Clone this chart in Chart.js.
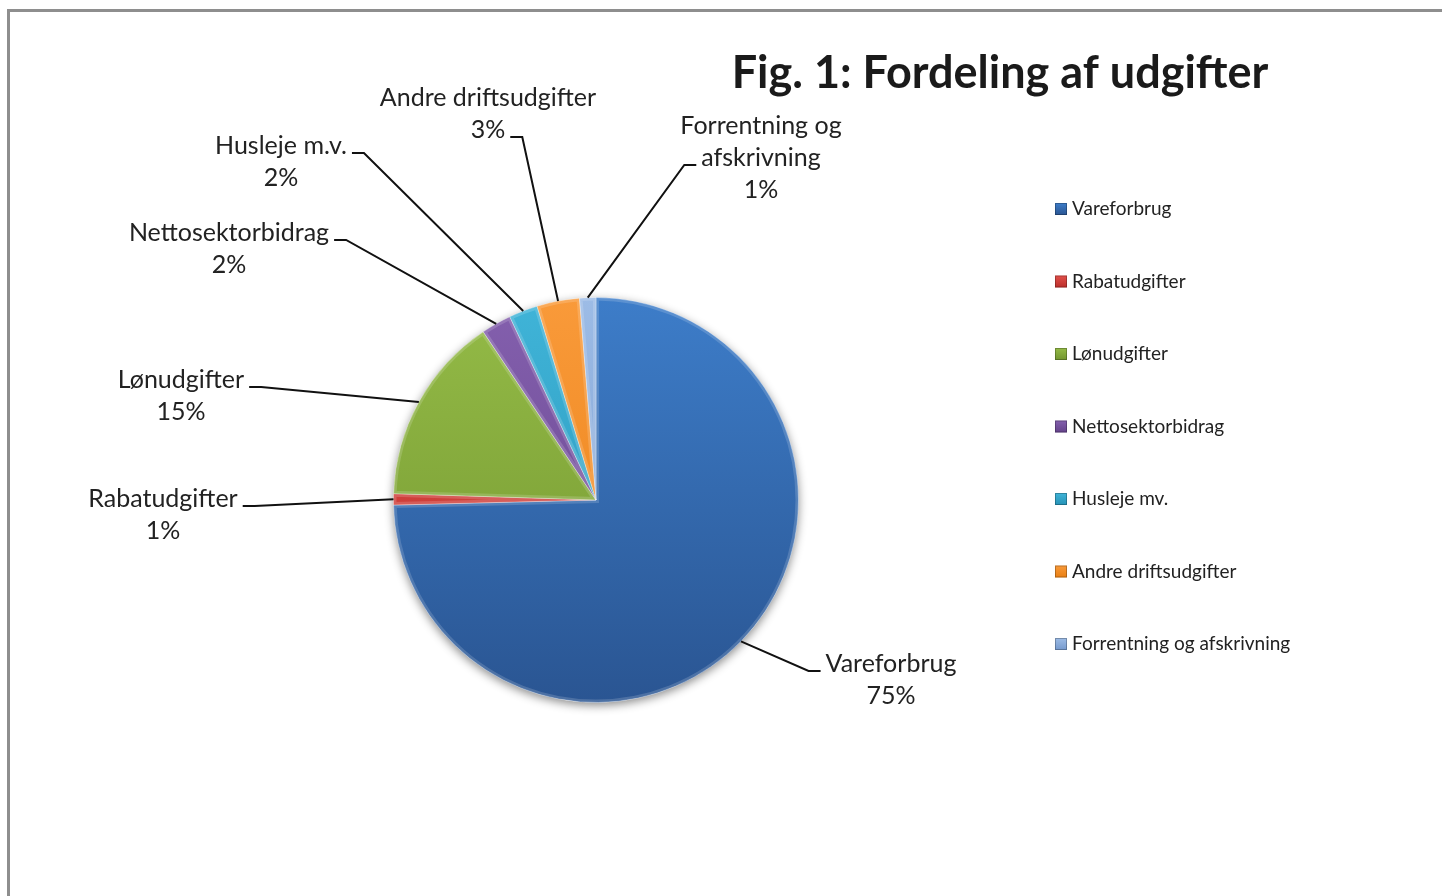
<!DOCTYPE html>
<html>
<head>
<meta charset="utf-8">
<script src="https://cdn.jsdelivr.net/npm/chart.js@4.4.1/dist/chart.umd.min.js"></script>
<style>
  body { margin: 0; background: #fff; }
  #frame { position: absolute; left: 7px; top: 9px; right: -5px; bottom: -5px;
           border-top: 3px solid #8e8e8e; border-left: 3px solid #8e8e8e; }
  #wrap { position: absolute; left: 0; top: 0; width: 1442px; height: 896px; }
</style>
</head>
<body>
<div id="frame"></div>
<div id="wrap"><canvas id="chart-display" width="1442" height="896"></canvas></div>
<script>
// legend names and the names shown next to the slices differ slightly in the original
var legendLabels = ['Vareforbrug', 'Rabatudgifter', 'Lønudgifter', 'Nettosektorbidrag',
                    'Husleje mv.', 'Andre driftsudgifter', 'Forrentning og afskrivning'];
var sliceLabels = ['Vareforbrug', 'Rabatudgifter', 'Lønudgifter', 'Nettosektorbidrag',
                   'Husleje m.v.', 'Andre driftsudgifter', 'Forrentning og\nafskrivning'];
var shares = [74.6, 0.9, 15.1, 2.4, 2.3, 3.4, 1.3];

// light / dark shade for each slice
var colors = [
    ['#3d7dc9', '#2a5592'],
    ['#e2504b', '#bb2e2a'],
    ['#94bb47', '#72952f'],
    ['#8460ae', '#64428a'],
    ['#40b4d8', '#2692b6'],
    ['#f99a3a', '#e97f12'],
    ['#9dbce6', '#7599cd']
];

// where each slice label sits (centre of first line) and which side gets the leader stub
var labelLayout = [
    { x: 891, y: 664, side: 'left',  line: 0 },
    { x: 163, y: 499, side: 'right', line: 0 },
    { x: 181, y: 380, side: 'right', line: 0 },
    { x: 229, y: 233, side: 'right', line: 0 },
    { x: 281, y: 146, side: 'right', line: 0 },
    { x: 488, y: 98,  side: 'right', line: 1 },
    { x: 761, y: 126, side: 'left',  line: 1 }
];

var FONT = 'Lato, "Open Sans", sans-serif';
var ctx = document.getElementById('chart-display');

function sliceFill(context) {
    var chart = context.chart;
    var area = chart.chartArea;
    var c = colors[context.dataIndex];
    if (!area) return c[0];
    var g = chart.ctx.createLinearGradient(0, area.top, 0, area.bottom);
    g.addColorStop(0, c[0]);
    g.addColorStop(1, c[1]);
    return g;
}

var pieShadow = {
    id: 'pieShadow',
    beforeDatasetsDraw: function(chart) {
        var arc = chart.getDatasetMeta(0).data[0];
        if (!arc) return;
        var c = chart.ctx;
        c.save();
        c.shadowColor = 'rgba(0,0,0,0.45)';
        c.shadowBlur = 10;
        c.shadowOffsetY = 3;
        c.fillStyle = '#fff';
        c.beginPath();
        c.arc(arc.x, arc.y, arc.outerRadius, 0, Math.PI * 2);
        c.fill();
        c.restore();
    },
    afterDatasetsDraw: function(chart) {
        // soft bevel rim on every slice
        var c = chart.ctx;
        chart.getDatasetMeta(0).data.forEach(function(arc) {
            c.save();
            c.beginPath();
            c.moveTo(arc.x, arc.y);
            c.arc(arc.x, arc.y, arc.outerRadius, arc.startAngle, arc.endAngle);
            c.closePath();
            c.clip();
            c.lineWidth = 6;
            c.strokeStyle = 'rgba(255,255,255,0.16)';
            c.stroke();
            c.restore();
        });
    }
};

var sliceText = {
    id: 'sliceText',
    afterDraw: function(chart) {
        var c = chart.ctx;
        var meta = chart.getDatasetMeta(0);
        var total = shares.reduce(function(a, b) { return a + b; }, 0);
        c.save();
        c.font = '25px ' + FONT;
        c.fillStyle = '#222';
        c.textAlign = 'center';
        c.textBaseline = 'middle';
        c.strokeStyle = '#111';
        c.lineWidth = 2;
        meta.data.forEach(function(arc, i) {
            var pos = labelLayout[i];
            var lines = sliceLabels[i].split('\n');
            lines.push(Math.round(shares[i] / total * 100) + '%');
            lines.forEach(function(t, k) {
                c.fillText(t, pos.x, pos.y + k * 32);
            });
            var w = c.measureText(lines[pos.line]).width;
            var sy = pos.y + pos.line * 32 + 7;
            var x0, x1;
            if (pos.side === 'right') {
                x0 = pos.x + w / 2 + 5; x1 = x0 + 12;
            } else {
                x0 = pos.x - w / 2 - 5; x1 = x0 - 12;
            }
            var mid = (arc.startAngle + arc.endAngle) / 2;
            var px = arc.x + Math.cos(mid) * arc.outerRadius;
            var py = arc.y + Math.sin(mid) * arc.outerRadius;
            c.beginPath();
            c.moveTo(x0, sy);
            c.lineTo(x1, sy);
            c.lineTo(px, py);
            c.stroke();
        });
        c.restore();

        // title
        c.save();
        c.font = 'bold 45px ' + FONT;
        c.fillStyle = '#1a1a1a';
        c.textAlign = 'center';
        c.textBaseline = 'alphabetic';
        c.fillText('Fig. 1: Fordeling af udgifter', 1000, 88);
        c.restore();

        // legend
        c.save();
        c.font = '19px ' + FONT;
        c.textBaseline = 'middle';
        c.textAlign = 'left';
        legendLabels.forEach(function(t, i) {
            var y = 209 + i * 72.5;
            var g = c.createLinearGradient(0, y - 6, 0, y + 6);
            g.addColorStop(0, colors[i][0]);
            g.addColorStop(1, colors[i][1]);
            c.fillStyle = g;
            c.fillRect(1055, y - 6, 12, 12);
            c.strokeStyle = 'rgba(0,0,0,0.25)';
            c.lineWidth = 1;
            c.strokeRect(1055.5, y - 5.5, 11, 11);
            c.fillStyle = '#222';
            c.fillText(t, 1072, y);
        });
        c.restore();
    }
};

new Chart(ctx, {
    type: 'pie',
    data: {
        labels: legendLabels,
        datasets: [{
            data: shares,
            backgroundColor: sliceFill,
            borderColor: 'rgba(255,255,255,0.3)',
            borderWidth: 1
        }]
    },
    options: {
        responsive: false,
        animation: false,
        layout: { padding: { left: 393, right: 643, top: 297, bottom: 193 } },
        plugins: {
            legend: { display: false },
            title: { display: false },
            tooltip: { enabled: false }
        }
    },
    plugins: [pieShadow, sliceText]
});
</script>
</body>
</html>
